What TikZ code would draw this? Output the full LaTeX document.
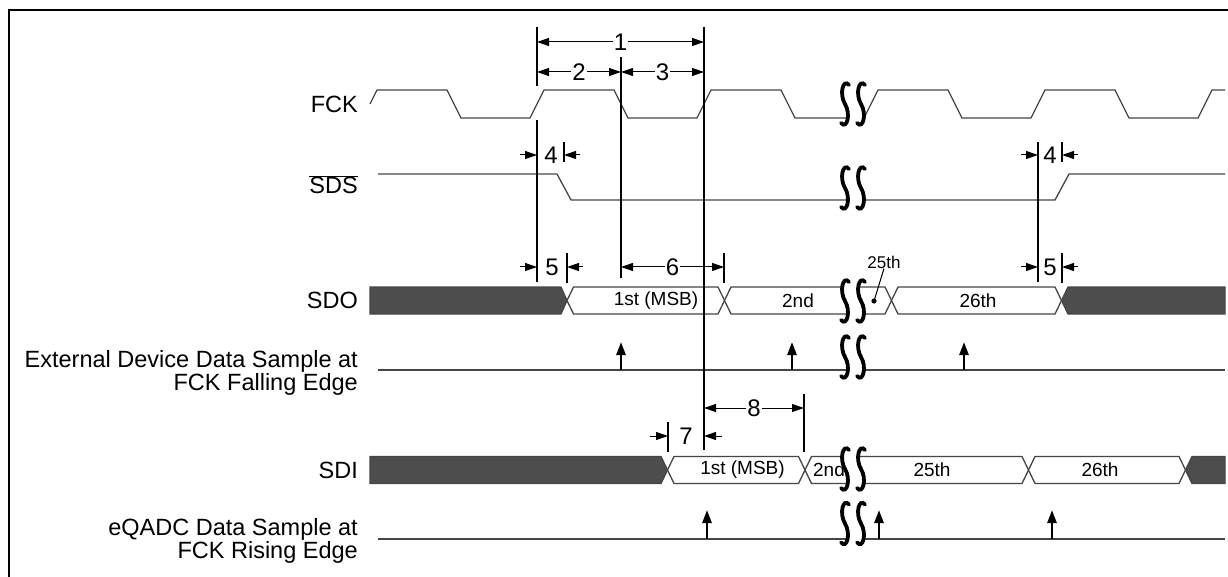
\documentclass[tikz,border=0pt]{standalone}
\usepackage{fontspec}
\setmainfont{Liberation Sans}
\usetikzlibrary{arrows.meta}
\definecolor{wavegray}{RGB}{70,70,70}
\definecolor{busdark}{RGB}{77,77,77}

% one cell of a data bus: style, left x, right x, middle y
\newcommand{\buscell}[4]{%
  \path[#1] (#2,#4) -- ({#2+6.5},{#4-13.5}) -- ({#3-6.5},{#4-13.5}) -- (#3,#4)
    -- ({#3-6.5},{#4+13.5}) -- ({#2+6.5},{#4+13.5}) -- cycle;}

\tikzset{
  wave/.style={draw=wavegray, line width=1.3pt, line join=miter},
  darkbus/.style={wave, fill=busdark},
  databus/.style={wave, fill=white},
  timeline/.style={draw=black, line width=1.2pt},
  dimarrow/.style={line width=1pt, {Triangle[length=12pt,width=8pt]}-{Triangle[length=12pt,width=8pt]}},
  tickarrow/.style={line width=1pt, {Triangle[length=12pt,width=8pt]}-},
  samplearrow/.style={line width=2.6pt, -{Triangle[length=13pt,width=9pt]}},
  signame/.style={anchor=east, align=right, inner sep=0pt, font=\fontsize{23.5}{21}\selectfont},
  dimlabel/.style={fill=white, inner sep=1pt, font=\fontsize{24}{24}\selectfont},
  datalabel/.style={inner sep=0pt, font=\fontsize{19}{20}\selectfont},
  wavebreak/.pic={
    \fill[white] (-8,-20) .. controls (-14,-8) and (-2,8) .. (-8,20)
      -- (8,20) .. controls (14,8) and (2,-8) .. (8,-20) -- cycle;
    \draw[line width=3.8pt, line cap=round] (-4,-19) .. controls (-10,-26) and (-14,-10) .. (-8,0)
      .. controls (-2,10) and (-6,26) .. (-12,19);
    \draw[line width=3.8pt, line cap=round] (12,-19) .. controls (6,-26) and (2,-10) .. (8,0)
      .. controls (14,10) and (10,26) .. (4,19);
  },
}

\begin{document}
\begin{tikzpicture}[x=1pt, y=-1pt]
\useasboundingbox (0,0) rectangle (1228,577);
% frame
\draw[line width=2.5pt] (9,577) -- (9,10) -- (1228,10);

% signal names
\node[signame] (fck) at (358,104) {FCK};
\node[signame] (sds) at (358,184.5) {$\overline{\mbox{SDS}}$};
\node[signame] (sdo) at (358,300) {SDO};
\node[signame] (ext) at (358,373) {External Device Data Sample at\\FCK Falling Edge};
\node[signame] (sdi) at (358,470) {SDI};
\node[signame] (eqadc) at (358,541) {eQADC Data Sample at\\FCK Rising Edge};

% timing points
\coordinate (fckA) at (537,0);
\coordinate (fckB) at (621,0);
\coordinate (fckC) at (704,0);
\coordinate (fckD) at (1038,0);
\coordinate (sdsA) at (564,0);
\coordinate (sdsB) at (1062,0);
\coordinate (sdoA) at (567,0);
\coordinate (sdoB) at (724,0);
\coordinate (sdoC) at (1062,0);
\coordinate (sdiA) at (668,0);
\coordinate (sdiB) at (804,0);

% FCK
\draw[wave] (370,104) -- (377,90) -- (447,90) -- (461,118) -- (530,118) -- (544,90)
  -- (614,90) -- (628,118) -- (697,118) -- (711,90) -- (781,90) -- (795,118)
  -- (864,118) -- (878,90) -- (948,90) -- (962,118) -- (1031,118) -- (1045,90)
  -- (1115,90) -- (1129,118) -- (1198,118) -- (1212,90) -- (1225,90);

% SDS
\draw[wave] (378,174) -- (557,174) -- (571,200) -- (1055,200) -- (1069,174) -- (1225,174);

% SDO
\path[darkbus] (370,287) -- (561,287) -- (567,300.5) -- (561,314) -- (370,314) -- cycle;
\buscell{databus}{567}{724.5}{300.5}
\buscell{databus}{724.5}{891.5}{300.5}
\buscell{databus}{891.5}{1061.5}{300.5}
\path[darkbus] (1061.5,300.5) -- (1068,287) -- (1225,287) -- (1225,314) -- (1068,314) -- cycle;
\node[datalabel] (sdo1) at (656,300.5) {1st (MSB)};
\node[datalabel] (sdo2) at (798,300.5) {2nd};
\node[datalabel] (sdo26) at (978,300.5) {26th};

% external device sampling
\draw[wave] (378,370) -- (1225,370);
\foreach \x in {621,792,964}
  \draw[samplearrow] (\x,370) -- (\x,342);

% SDI
\path[darkbus] (370,456.5) -- (661,456.5) -- (667.5,470) -- (661,483.5) -- (370,483.5) -- cycle;
\buscell{databus}{667.5}{805}{470}
\buscell{databus}{805}{1028.5}{470}
\buscell{databus}{1028.5}{1185.5}{470}
\path[darkbus] (1185.5,470) -- (1192,456.5) -- (1225,456.5) -- (1225,483.5) -- (1192,483.5) -- cycle;
\node[datalabel] (sdi1) at (742.5,470) {1st (MSB)};
\node[datalabel] (sdi2) at (829,470) {2nd};
\node[datalabel] (sdi25) at (932,470) {25th};
\node[datalabel] (sdi26) at (1100,470) {26th};

% eQADC sampling
\draw[wave] (378,539) -- (1225,539);
\foreach \x in {707,879,1052}
  \draw[samplearrow] (\x,539) -- (\x,510);

% breaks
\pic at (853,104) {wavebreak};
\pic at (853,188) {wavebreak};
\pic at (853,301) {wavebreak};
\pic at (853,357) {wavebreak};
\pic at (853,469) {wavebreak};
\pic at (853,523.5) {wavebreak};

% 25th callout
\coordinate (dot25) at (874,301);
\node[datalabel, font=\fontsize{17}{18}\selectfont] (sdo25) at (884,262) {25th};
\fill (dot25) circle (2.6);
\draw[line width=1pt] (dot25) -- (sdo25.south);

% reference lines
\draw[timeline] (fckA |- 0,27) -- (fckA |- 0,86);
\draw[timeline] (fckA |- 0,120) -- (fckA |- 0,282);
\draw[timeline] (fckB |- 0,57) -- (fckB |- 0,278);
\draw[timeline] (fckC |- 0,27) -- (fckC |- 0,450);
\draw[timeline] (fckD |- 0,142) -- (fckD |- 0,282);
\draw[timeline] (sdsA |- 0,142) -- (sdsA |- 0,162);
\draw[timeline] (sdsB |- 0,142) -- (sdsB |- 0,162);
\draw[timeline] (sdoA |- 0,253) -- (sdoA |- 0,283);
\draw[timeline] (sdoB |- 0,253) -- (sdoB |- 0,283);
\draw[timeline] (sdoC |- 0,253) -- (sdoC |- 0,283);
\draw[timeline] (sdiA |- 0,422) -- (sdiA |- 0,452);
\draw[timeline] (sdiB |- 0,394) -- (sdiB |- 0,452);

% timing parameters
\draw[dimarrow] (fckA |- 0,42) -- (fckC |- 0,42) node[dimlabel, midway] (t1) {1};
\draw[dimarrow] (fckA |- 0,72) -- (fckB |- 0,72) node[dimlabel, midway] (t2) {2};
\draw[dimarrow] (fckB |- 0,72) -- (fckC |- 0,72) node[dimlabel, midway] (t3) {3};
\draw[tickarrow] (fckA |- 0,155) -- ++(-17,0);
\draw[tickarrow] (sdsA |- 0,155) -- ++(16,0);
\node[dimlabel, fill=none] (t4a) at (551,155) {4};
\draw[tickarrow] (fckD |- 0,155) -- ++(-17,0);
\draw[tickarrow] (sdsB |- 0,155) -- ++(16,0);
\node[dimlabel, fill=none] (t4b) at (1050,155) {4};
\draw[tickarrow] (fckA |- 0,267) -- ++(-17,0);
\draw[tickarrow] (sdoA |- 0,267) -- ++(16,0);
\node[dimlabel, fill=none] (t5a) at (552,267) {5};
\draw[tickarrow] (fckD |- 0,267) -- ++(-17,0);
\draw[tickarrow] (sdoC |- 0,267) -- ++(16,0);
\node[dimlabel, fill=none] (t5b) at (1050,267) {5};
\draw[dimarrow] (fckB |- 0,267) -- (sdoB |- 0,267) node[dimlabel, midway] (t6) {6};
\draw[tickarrow] (sdiA |- 0,436) -- ++(-18,0);
\draw[tickarrow] (fckC |- 0,436) -- ++(18,0);
\node[dimlabel, fill=none] (t7) at (686,436) {7};
\draw[dimarrow] (fckC |- 0,408) -- (sdiB |- 0,408) node[dimlabel, midway] (t8) {8};
\end{tikzpicture}
\end{document}
